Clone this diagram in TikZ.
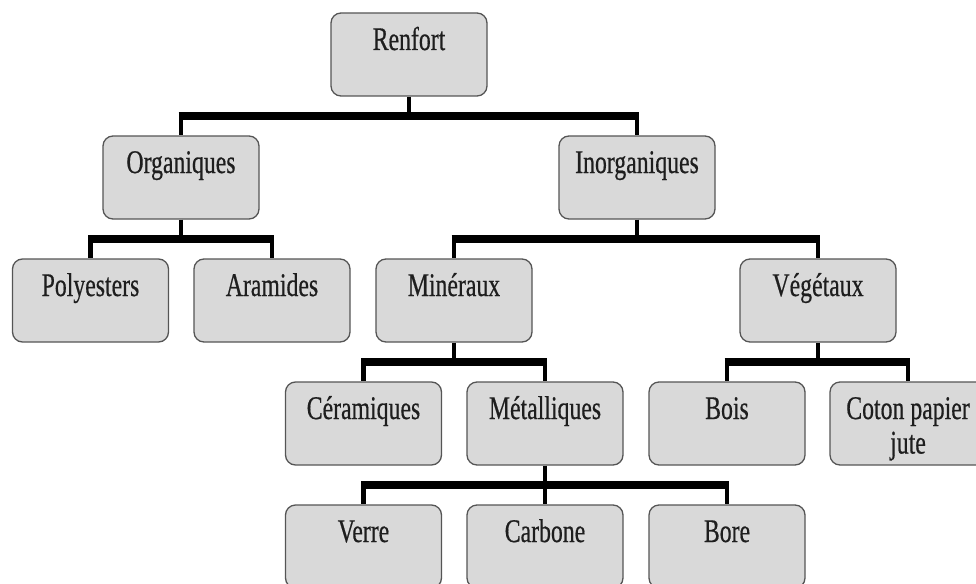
\documentclass[tikz,border=0pt]{standalone}
\usepackage{graphicx}
\usepackage{fontspec}
\setmainfont{Liberation Serif}[FakeBold=0.6]
\usetikzlibrary{calc}
\definecolor{boxfill}{HTML}{D9D9D9}
\definecolor{boxline}{HTML}{555555}
\definecolor{txt}{HTML}{1E1E1E}
\newcommand{\nt}[1]{\scalebox{0.72}[1]{#1}}
\tikzset{
  box/.style={draw=boxline, line width=1.3pt, fill=boxfill, rounded corners=10pt,
    minimum width=156pt, minimum height=83pt, inner xsep=0pt, inner ysep=0pt,
    text height=37pt, text depth=46pt, text=txt,
    font=\fontsize{33}{35}\selectfont},
  barline/.style={line width=7.5pt, black, shorten <=-2.3pt, shorten >=-2.3pt},
  stemline/.style={line width=4.5pt, black},
}
\begin{document}
\begin{tikzpicture}[x=1pt,y=-1pt]
\useasboundingbox (0,0) rectangle (976,583);
\clip (0,0) rectangle (976,583);
% boxes
\node[box] (ren) at (409,54.5) {\nt{Renfort}};
\node[box] (org) at (181,177.5) {\nt{Organiques}};
\node[box] (ino) at (637,177.5) {\nt{Inorganiques}};
\node[box] (pol) at (90.5,300.5) {\nt{Polyesters}};
\node[box] (ara) at (272,300.5) {\nt{Aramides}};
\node[box] (min) at (454,300.5) {\nt{Minéraux}};
\node[box] (veg) at (818,300.5) {\nt{Végétaux}};
\node[box] (cer) at (363.5,423.5) {\nt{Céramiques}};
\node[box] (met) at (545,423.5) {\nt{Métalliques}};
\node[box] (boi) at (727,423.5) {\nt{Bois}};
\node[box] (cot) at (908,423.5) {\nt{\begin{tabular}[t]{@{}c@{}}Coton papier\\[-0.5pt]jute\end{tabular}}};
\node[box] (ver) at (363.5,546.5) {\nt{Verre}};
\node[box] (car) at (545,546.5) {\nt{Carbone}};
\node[box] (bor) at (727,546.5) {\nt{Bore}};
% junction levels
\coordinate (j0) at ($(ren.south)!.5!(ren.south |- org.north)$);
\coordinate (j1) at ($(org.south)!.5!(org.south |- pol.north)$);
\coordinate (j2) at ($(ino.south)!.5!(ino.south |- min.north)$);
\coordinate (j3) at ($(min.south)!.5!(min.south |- cer.north)$);
\coordinate (j4) at ($(veg.south)!.5!(veg.south |- boi.north)$);
\coordinate (j5) at ($(met.south)!.5!(met.south |- car.north)$);
% Renfort
\draw[stemline] (ren.south) -- (j0);
\draw[barline] (org.north |- j0) -- (ino.north |- j0);
\draw[stemline] (org.north |- j0) -- (org.north);
\draw[stemline] (ino.north |- j0) -- (ino.north);
% Organiques
\draw[stemline] (org.south) -- (j1);
\draw[barline] (pol.north |- j1) -- (ara.north |- j1);
\draw[stemline] (pol.north |- j1) -- (pol.north);
\draw[stemline] (ara.north |- j1) -- (ara.north);
% Inorganiques
\draw[stemline] (ino.south) -- (j2);
\draw[barline] (min.north |- j2) -- (veg.north |- j2);
\draw[stemline] (min.north |- j2) -- (min.north);
\draw[stemline] (veg.north |- j2) -- (veg.north);
% Mineraux
\draw[stemline] (min.south) -- (j3);
\draw[barline] (cer.north |- j3) -- (met.north |- j3);
\draw[stemline] (cer.north |- j3) -- (cer.north);
\draw[stemline] (met.north |- j3) -- (met.north);
% Vegetaux
\draw[stemline] (veg.south) -- (j4);
\draw[barline] (boi.north |- j4) -- (cot.north |- j4);
\draw[stemline] (boi.north |- j4) -- (boi.north);
\draw[stemline] (cot.north |- j4) -- (cot.north);
% Metalliques
\draw[stemline] (met.south) -- (j5);
\draw[barline] (ver.north |- j5) -- (bor.north |- j5);
\draw[stemline] (ver.north |- j5) -- (ver.north);
\draw[stemline] (car.north |- j5) -- (car.north);
\draw[stemline] (bor.north |- j5) -- (bor.north);
\end{tikzpicture}
\end{document}
